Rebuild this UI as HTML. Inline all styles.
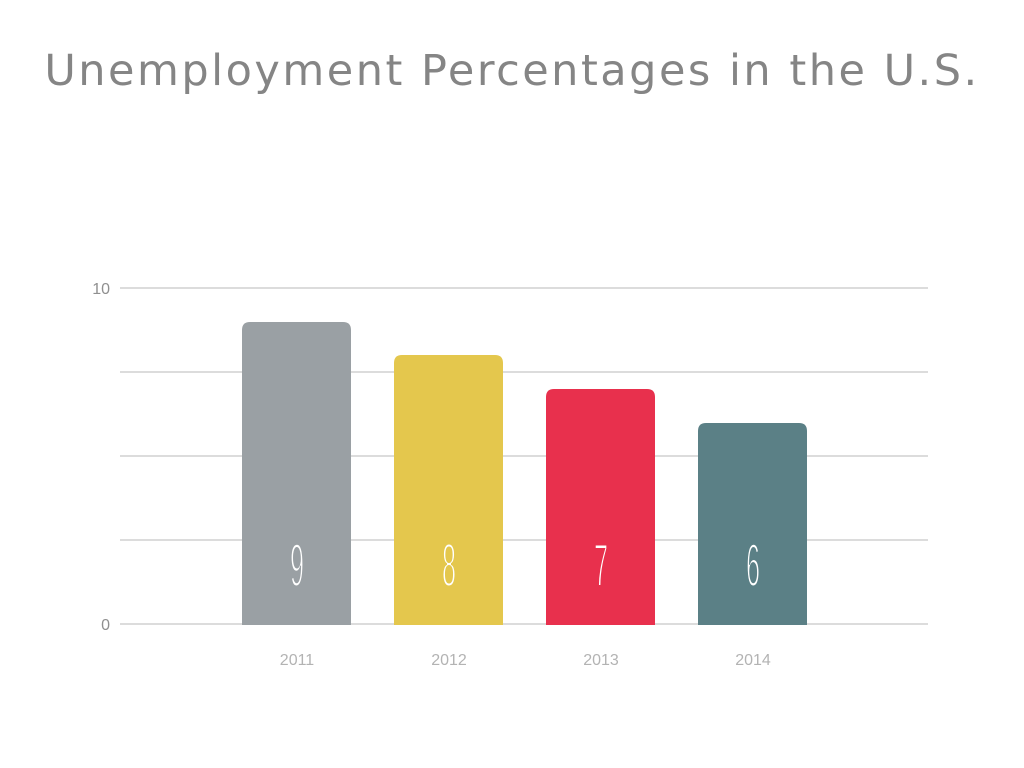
<!DOCTYPE html>
<html><head><style>
html,body{margin:0;padding:0;background:#fff;width:1024px;height:768px;overflow:hidden}
</style></head><body>
<svg width="1024" height="768" xmlns="http://www.w3.org/2000/svg">
<text x="512" y="85" text-anchor="middle" font-family="DejaVu Sans, sans-serif" font-size="43" letter-spacing="2.5" fill="#858585">Unemployment Percentages in the U.S.</text>
<g stroke="#dcdcdc" stroke-width="2">
<line x1="120" y1="288" x2="928" y2="288"/>
<line x1="120" y1="372" x2="928" y2="372"/>
<line x1="120" y1="456" x2="928" y2="456"/>
<line x1="120" y1="540" x2="928" y2="540"/>
<line x1="120" y1="624" x2="928" y2="624"/>
</g>
<g font-family="Liberation Sans, sans-serif" font-size="16" fill="#8f8f8f" text-anchor="end">
<text x="110" y="294">10</text>
<text x="110" y="630">0</text>
</g>
<path d="M242,625 V330 Q242,322 250,322 H343 Q351,322 351,330 V625 Z" fill="#9aa0a4"/>
<path d="M394,625 V363 Q394,355 402,355 H495 Q503,355 503,363 V625 Z" fill="#e4c74d"/>
<path d="M546,625 V397 Q546,389 554,389 H647 Q655,389 655,397 V625 Z" fill="#e8304d"/>
<path d="M698,625 V431 Q698,423 706,423 H799 Q807,423 807,431 V625 Z" fill="#5b8086"/>
<g font-family="Liberation Sans, sans-serif" font-size="60" fill="#fff" text-anchor="middle" stroke-width="2">
<text transform="translate(297,586) scale(0.42,1)" stroke="#9aa0a4">9</text>
<text transform="translate(449,586) scale(0.42,1)" stroke="#e4c74d">8</text>
<text transform="translate(601,586) scale(0.42,1)" stroke="#e8304d">7</text>
<text transform="translate(753,586) scale(0.42,1)" stroke="#5b8086">6</text>
</g>
<g font-family="Liberation Sans, sans-serif" font-size="16" fill="#b3b3b3" text-anchor="middle">
<text x="297" y="665">2011</text>
<text x="449" y="665">2012</text>
<text x="601" y="665">2013</text>
<text x="753" y="665">2014</text>
</g>
</svg>
</body></html>
